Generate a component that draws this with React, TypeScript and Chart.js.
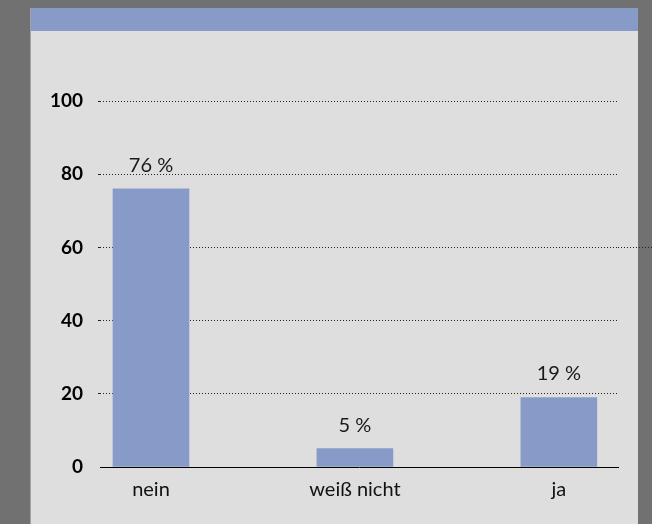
import React, { useEffect, useRef } from "react";
import { Chart, registerables } from "chart.js";

Chart.register(...registerables);

const categories = ["nein", "weiß nicht", "ja"];
const values = [76, 5, 19];
const valueLabels = ["76 %", "5 %", "19 %"];
const yTicks = [0, 20, 40, 60, 80, 100];

const FONT = "Lato, 'Open Sans', 'DejaVu Sans', sans-serif";
const BAR = "#889bc8";

const backgroundPlugin = {
  id: "panelBg",
  beforeDraw(chart: any) {
    const { ctx, width, height } = chart;
    ctx.save();
    ctx.fillStyle = "#717171";
    ctx.fillRect(0, 0, width, height);
    ctx.fillStyle = "#a2a2a2";
    ctx.fillRect(30, 8, 1, height - 8);
    ctx.fillStyle = "#dedede";
    ctx.fillRect(31, 8, 607, height - 8);
    ctx.fillStyle = BAR;
    ctx.fillRect(31, 8, 607, 23);
    ctx.restore();
  },
};

const labelPlugin = {
  id: "valueLabels",
  afterDatasetsDraw(chart: any) {
    const { ctx } = chart;
    const meta = chart.getDatasetMeta(0);
    ctx.save();
    ctx.font = `20px ${FONT}`;
    ctx.fillStyle = "#1a1a1a";
    ctx.textAlign = "center";
    ctx.textBaseline = "alphabetic";
    meta.data.forEach((el: any, i: number) => {
      ctx.fillText(valueLabels[i], el.x, el.y - 17);
    });
    ctx.restore();
  },
  afterDraw(chart: any) {
    // the 60 gridline runs past the panel in the reference
    const { ctx, chartArea, width } = chart;
    const y = Math.round(chart.scales.y.getPixelForValue(60)) + 0.5;
    ctx.save();
    ctx.strokeStyle = "#222";
    ctx.lineWidth = 1;
    ctx.setLineDash([1, 2]);
    ctx.beginPath();
    ctx.moveTo(chartArea.right, y);
    ctx.lineTo(width, y);
    ctx.stroke();
    ctx.restore();
  },
};

export default function App() {
  const ref = useRef<HTMLCanvasElement>(null);

  useEffect(() => {
    let chart: Chart | null = null;
    let cancelled = false;
    const make = () => {
      if (cancelled || !ref.current) return;
      chart = new Chart(ref.current, {
        type: "bar",
        data: {
          datasets: [
            {
              data: values.map((v, i) => ({ x: i, y: v })) as any,
              backgroundColor: BAR,
              borderWidth: 0,
              barThickness: 76,
            },
          ],
        },
        options: {
          animation: false,
          responsive: false,
          devicePixelRatio: 1,
          layout: { padding: { left: 40, right: 34, top: 101, bottom: 17 } },
          plugins: {
            legend: { display: false },
            tooltip: { enabled: false },
            title: { display: false },
          },
          scales: {
            x: {
              type: "linear",
              offset: false,
              min: -0.25,
              max: 2.29,
              afterBuildTicks: (s: any) => {
                s.ticks = categories.map((_, i) => ({ value: i }));
              },
              afterFit: (s: any) => {
                s.height = 40;
              },
              grid: { display: false, drawTicks: false, offset: false },
              border: { display: true, color: "#000", width: 1 },
              ticks: {
                padding: 11,
                color: "#111",
                font: { family: FONT, size: 20 },
                callback: (v: any) => categories[v as number] ?? "",
                maxRotation: 0,
                autoSkip: false,
              },
            },
            y: {
              min: 0,
              max: 100,
              afterBuildTicks: (s: any) => {
                s.ticks = yTicks.map((v) => ({ value: v }));
              },
              afterFit: (s: any) => {
                s.width = 60;
              },
              grid: {
                color: (c: any) => (c.tick && c.tick.value === 0 ? "rgba(0,0,0,0)" : "#222"),
                lineWidth: 1,
                drawTicks: true,
                tickLength: 2,
              },
              border: { display: false, dash: [1, 2] },
              ticks: {
                padding: 15,
                color: "#000",
                font: { family: FONT, size: 19, weight: "bold" },
              },
            },
          },
        },
        plugins: [backgroundPlugin, labelPlugin],
      } as any);
    };
    const fonts: any = (document as any).fonts;
    if (fonts && fonts.load) {
      Promise.all([
        fonts.load(`20px Lato`),
        fonts.load(`bold 19px Lato`),
      ]).then(make, make);
    } else {
      make();
    }
    return () => {
      cancelled = true;
      if (chart) chart.destroy();
    };
  }, []);

  return (
    <div style={{ position: "fixed", left: 0, top: 0, width: 652, height: 524 }}>
      <canvas ref={ref} width={652} height={524} style={{ width: 652, height: 524, display: "block" }} />
    </div>
  );
}
